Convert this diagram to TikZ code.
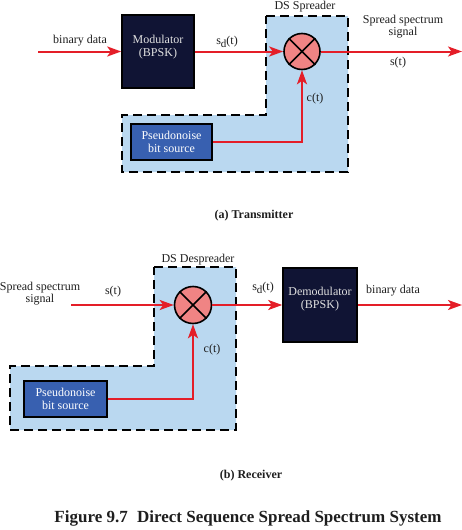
\documentclass[tikz,border=0pt]{standalone}
\usepackage{fontspec}
\setmainfont{Liberation Serif}
\usetikzlibrary{arrows.meta}
\definecolor{navy}{RGB}{16,20,52}
\definecolor{zonefill}{RGB}{186,216,240}
\definecolor{pnblue}{RGB}{56,96,176}
\definecolor{mixfill}{RGB}{240,132,132}
\definecolor{sigred}{RGB}{228,30,40}
\definecolor{ink}{RGB}{30,30,30}
\tikzset{
  modbox/.style={draw=black,line width=1.6pt,fill=navy,minimum width=72pt,minimum height=73pt,inner sep=0pt},
  pnbox/.style={draw=black,line width=1.6pt,fill=pnblue,text=white,align=center,inner sep=0pt,
    font=\fontsize{12}{13}\selectfont},
  boxtext/.style={text=white!88!black,align=center,font=\fontsize{12}{12.5}\selectfont},
  mixer/.style={circle,draw=black,line width=1.6pt,fill=mixfill,minimum size=36pt,inner sep=0pt},
  zone/.style={draw=black,fill=zonefill,line width=2.2pt,dash pattern=on 9pt off 5pt},
  sig/.style={draw=sigred,line width=2pt},
  sigarrow/.style={sig,-{Stealth[length=14pt,width=10pt,inset=3.5pt]}},
  lbl/.style={text=ink,align=center,font=\fontsize{12}{12}\selectfont,inner sep=0pt},
  subcaption/.style={text=ink,font=\bfseries\fontsize{12}{12}\selectfont,inner sep=0pt},
}
\newcommand{\sdt}{s\raisebox{-2.5pt}{\fontsize{11}{11}\selectfont d}(t)}
\begin{document}
\begin{tikzpicture}[x=1pt,y=-1pt]
\useasboundingbox (0,0) rectangle (462,530);

% ---------------- Transmitter ----------------
\path[zone] (266,16) -- (348,16) -- (348,172) -- (122,172) -- (122,115) -- (266,115) -- cycle;
\node[modbox] (mod) at (158,51.5) {};
\node[boxtext] (modtxt) at (158,47) {Modulator\\(BPSK)};
\node[mixer] (mixA) at (302,51.5) {};
\draw[line width=1.6pt] (mixA.north west) -- (mixA.south east) (mixA.north east) -- (mixA.south west);
\node[pnbox,minimum width=81pt,minimum height=36pt] (pnA) at (171.5,142) {Pseudonoise\\bit source};

\coordinate (inA) at (38,51.5);
\coordinate (outA) at (462,51.5);
\draw[sigarrow] (inA) -- (mod.west);
\draw[sigarrow] (mod.east) -- (mixA.west);
\draw[sigarrow] (mixA.east) -- (outA);
\draw[sigarrow] (pnA.east) -| (mixA.south);

\node[lbl] (bdA) at (80,41) {binary data};
\node[lbl] (sdA) at (227,42) {\sdt};
\node[lbl] (dsA) at (305,7) {DS Spreader};
\node[lbl] (ssA) at (403,26.5) {Spread spectrum\\signal};
\node[lbl] (stA) at (398,63) {s(t)};
\node[lbl] (ctA) at (315,99) {c(t)};
\node[subcaption] (capA) at (254,216) {(a) Transmitter};

% ---------------- Receiver ----------------
\path[zone] (154,267) -- (236,267) -- (236,430) -- (10,430) -- (10,366) -- (154,366) -- cycle;
\node[mixer,minimum size=37pt] (mixB) at (193,305) {};
\draw[line width=1.6pt] (mixB.north west) -- (mixB.south east) (mixB.north east) -- (mixB.south west);
\node[modbox,minimum width=74pt,minimum height=74pt] (demod) at (320,305) {};
\node[boxtext] (demodtxt) at (320,299) {Demodulator\\(BPSK)};
\node[pnbox,minimum width=83pt,minimum height=36pt] (pnB) at (65.5,399) {Pseudonoise\\bit source};

\coordinate (inB) at (71,305);
\coordinate (outB) at (462,305);
\draw[sigarrow] (inB) -- (mixB.west);
\draw[sigarrow] (mixB.east) -- (demod.west);
\draw[sigarrow] (demod.east) -- (outB);
\draw[sigarrow] (pnB.east) -| (mixB.south);

\node[lbl] (ssB) at (40,293.5) {Spread spectrum\\signal};
\node[lbl] (stB) at (113,292) {s(t)};
\node[lbl] (dsB) at (198,260) {DS Despreader};
\node[lbl] (sdB) at (263,288) {\sdt};
\node[lbl] (bdB) at (393,291) {binary data};
\node[lbl] (ctB) at (212,350) {c(t)};
\node[subcaption] (capB) at (251,476) {(b) Receiver};

\node[text=ink,font=\bfseries\fontsize{17}{17}\selectfont,inner sep=0pt] (fig) at (248,518)
  {Figure 9.7\hspace{0.3em} Direct Sequence Spread Spectrum System};
\end{tikzpicture}
\end{document}
